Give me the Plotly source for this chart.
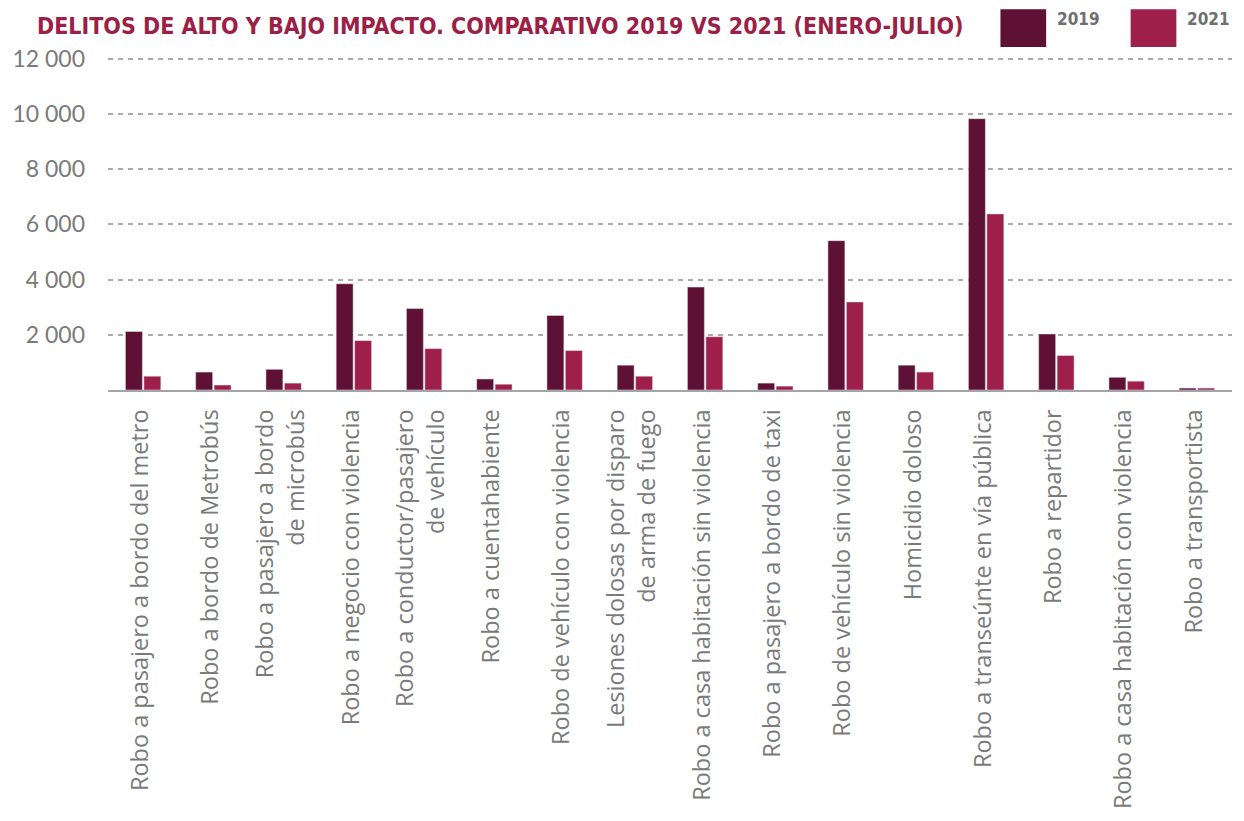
import plotly.graph_objects as go

# Delitos (enero-julio): 2019 vs 2021
categories = [
    "Robo a pasajero a bordo del metro",
    "Robo a bordo de Metrobús",
    "Robo a pasajero a bordo de microbús",
    "Robo a negocio con violencia",
    "Robo a conductor/pasajero de vehículo",
    "Robo a cuentahabiente",
    "Robo de vehículo con violencia",
    "Lesiones dolosas por disparo de arma de fuego",
    "Robo a casa habitación sin violencia",
    "Robo a pasajero a bordo de taxi",
    "Robo de vehículo sin violencia",
    "Homicidio doloso",
    "Robo a transeúnte en vía pública",
    "Robo a repartidor",
    "Robo a casa habitación con violencia",
    "Robo a transportista",
]
tick_labels = [
    "Robo a pasajero a bordo del metro",
    "Robo a bordo de Metrobús",
    "Robo a pasajero a bordo<br>de microbús",
    "Robo a negocio con violencia",
    "Robo a conductor/pasajero<br>de vehículo",
    "Robo a cuentahabiente",
    "Robo de vehículo con violencia",
    "Lesiones dolosas por disparo<br>de arma de fuego",
    "Robo a casa habitación sin violencia",
    "Robo a pasajero a bordo de taxi",
    "Robo de vehículo sin violencia",
    "Homicidio doloso",
    "Robo a transeúnte en vía pública",
    "Robo a repartidor",
    "Robo a casa habitación con violencia",
    "Robo a transportista",
]
values_2019 = [2120, 650, 750, 3850, 2950, 400, 2700, 900, 3730, 250, 5410, 900, 9830, 2030, 460, 70]
values_2021 = [500, 180, 250, 1790, 1500, 210, 1430, 500, 1930, 140, 3190, 650, 6380, 1250, 320, 70]
y_ticks = [2000, 4000, 6000, 8000, 10000, 12000]

COLOR_2019 = "#5E1134"
COLOR_2021 = "#9E1F49"
GRAY = "#7a7a7a"

W, H = 1244, 821
ML, MR, MT, MB = 101, 12, 56, 429
PW, PH = W - ML - MR, H - MT - MB


def px_x(px):
    """Pixel column -> paper x."""
    return (px - ML) / PW


def px_y(py):
    """Pixel row (from top) -> paper y."""
    return (H - MB - py) / PH


fig = go.Figure()
fig.add_trace(go.Bar(name="2019", x=categories, y=values_2019, marker_color=COLOR_2019))
fig.add_trace(go.Bar(name="2021", x=categories, y=values_2021, marker_color=COLOR_2021))

fig.update_layout(
    width=W,
    height=H,
    margin=dict(l=ML, r=MR, t=MT, b=MB),
    paper_bgcolor="white",
    plot_bgcolor="white",
    barmode="group",
    bargap=0.475,
    bargroupgap=0.08,
    showlegend=False,
    separators=". ",
)

fig.update_xaxes(
    tickmode="array",
    tickvals=categories,
    ticktext=tick_labels,
    tickangle=-90,
    tickfont=dict(family="Open Sans", size=23.5, color=GRAY),
    ticklabelstandoff=8,
    ticklabelshift=-3,
    showgrid=False,
    showline=True,
    linecolor="#a3a3ab",
    linewidth=2,
    ticks="",
)
fig.update_yaxes(
    range=[0, 12100],
    tickmode="array",
    tickvals=y_ticks,
    tickformat=",d",
    tickfont=dict(family="Lato", size=23, color=GRAY),
    showgrid=True,
    gridcolor="#ababab",
    gridwidth=1.5,
    griddash="5px,5px",
    zeroline=False,
    showline=False,
    ticks="",
    ticklabelstandoff=22,
)

# Title
fig.add_annotation(
    text="<b>DELITOS DE ALTO Y BAJO IMPACTO. COMPARATIVO 2019 VS 2021 (ENERO-JULIO)</b>",
    xref="paper", yref="paper", x=px_x(28), y=px_y(26),
    xanchor="left", yanchor="middle", showarrow=False,
    font=dict(family="DejaVu Sans Condensed, Roboto", size=23, color="#9B1F46"),
)

# Legend swatches and labels
legend_items = [("2019", COLOR_2019, 999), ("2021", COLOR_2021, 1130)]
for label, color, px in legend_items:
    fig.add_shape(
        type="rect", xref="paper", yref="paper",
        x0=px_x(px), x1=px_x(px + 46), y0=px_y(47), y1=px_y(9),
        fillcolor=color, line_width=0,
    )
    fig.add_annotation(
        text=f"<b>{label}</b>", xref="paper", yref="paper",
        x=px_x(px + 55), y=px_y(18.5),
        xanchor="left", yanchor="middle", showarrow=False,
        font=dict(family="DejaVu Sans Condensed, Roboto", size=17, color="#6f6f6f"),
    )

fig.write_html("out.html")
